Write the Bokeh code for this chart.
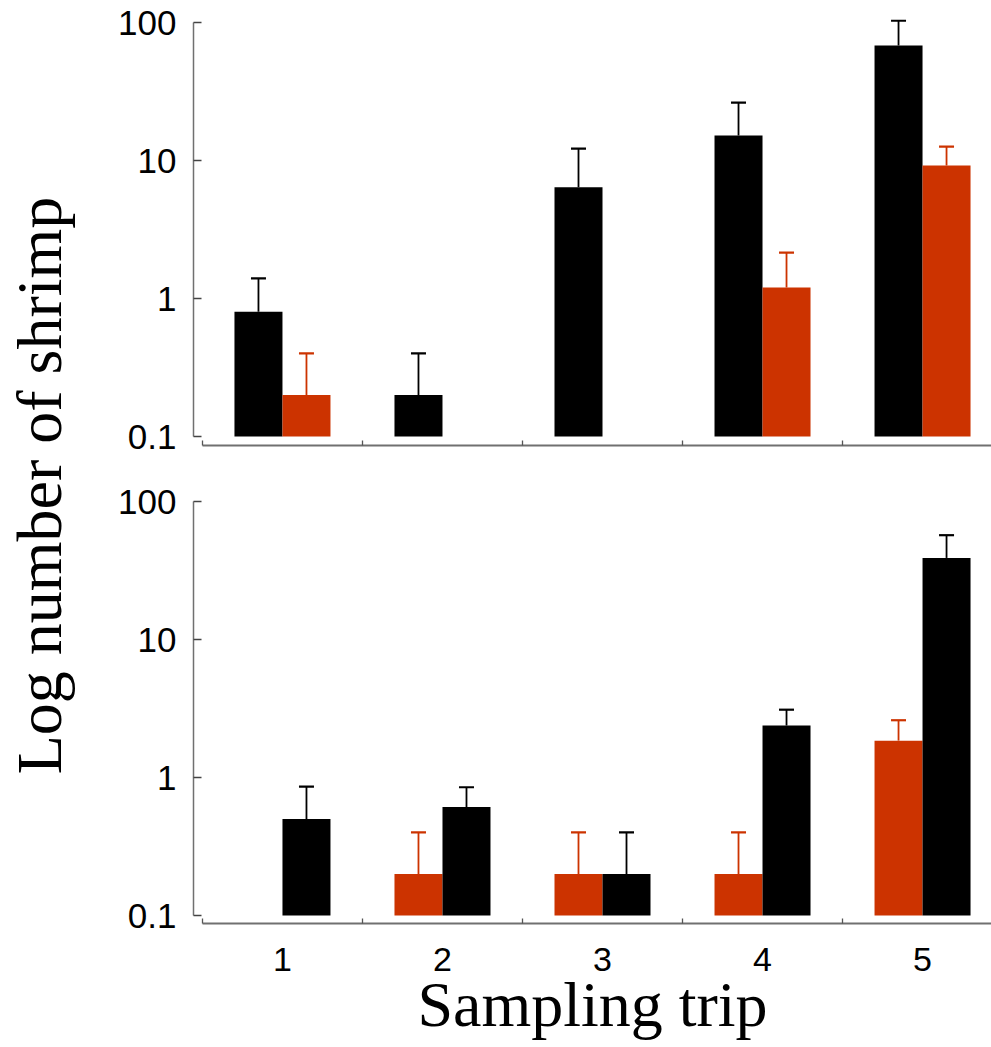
import math
from bokeh.plotting import figure
from bokeh.models import (ColumnDataSource, Range1d, FixedTicker, Whisker, TeeHead,
                          CustomJSTickFormatter)
from bokeh.layouts import row, column
from bokeh.embed import file_html
from bokeh.resources import INLINE

# ---------------- data ----------------
trips = [1, 2, 3, 4, 5]
trip_labels = ["1", "2", "3", "4", "5"]
group_edges = [0.5, 1.5, 2.5, 3.5, 4.5, 5.5]
y_ticks = [0.1, 1, 10, 100]
y_tick_labels = ["0.1", "1", "10", "100"]

# upper panel (black = left bar, red = right bar)
top_black = [0.8, 0.2, 6.4, 15.2, 68.0]
top_black_err = [1.4, 0.4, 12.2, 26.3, 103.0]
top_red = [0.2, None, None, 1.2, 9.2]
top_red_err = [0.4, None, None, 2.15, 12.6]

# lower panel (red = left bar, black = right bar)
bottom_red = [None, 0.2, 0.2, 0.2, 1.85]
bottom_red_err = [None, 0.4, 0.4, 0.4, 2.6]
bottom_black = [0.5, 0.61, 0.2, 2.38, 39.0]
bottom_black_err = [0.86, 0.85, 0.4, 3.1, 57.0]

RED = "#CC3300"
BLACK = "#000000"
AXIS_GRAY = "#707070"
BAR_W = 0.3
OFF = 0.15
BASE = 0.1

PANEL_W = 901
DECADE_PX = 138.0


def add_series(p, values, errs, offset, color):
    xs, tops, ups = [], [], []
    for t, v, e in zip(trips, values, errs):
        if v is None:
            continue
        xs.append(t + offset)
        tops.append(v)
        ups.append(e)
    src = ColumnDataSource(dict(x=xs, top=tops, upper=ups))
    w = Whisker(base="x", lower="top", upper="upper", source=src,
                line_color=color, line_width=1.8,
                upper_head=TeeHead(size=15, line_color=color, line_width=2.2),
                lower_head=None)
    p.add_layout(w)
    p.vbar(x="x", top="top", bottom=BASE, width=BAR_W, source=src,
           fill_color=color, line_color=None)


def make_panel(height, b_top, b_bottom, pad_top_px, pad_bottom_px, show_labels):
    y_start = 10 ** (-1 - pad_bottom_px / DECADE_PX)
    y_end = 10 ** (2 + pad_top_px / DECADE_PX)
    p = figure(width=PANEL_W, height=height, y_axis_type="log",
               x_range=Range1d(0.444, 5.431), y_range=Range1d(y_start, y_end),
               output_backend="svg", toolbar_location=None,
               min_border_left=103, min_border_right=0,
               min_border_top=b_top, min_border_bottom=b_bottom)
    p.outline_line_color = None
    p.xgrid.grid_line_color = None
    p.ygrid.grid_line_color = None
    p.background_fill_color = "white"

    xa = p.xaxis[0]
    xa.ticker = FixedTicker(ticks=trips, minor_ticks=group_edges)
    xa.bounds = (group_edges[0], group_edges[-1])
    xa.major_tick_in = 0
    xa.major_tick_out = 0
    xa.minor_tick_in = 5
    xa.minor_tick_out = 0
    xa.minor_tick_line_color = "#555555"
    xa.minor_tick_line_width = 1.3
    xa.axis_line_color = AXIS_GRAY
    xa.axis_line_width = 1.8
    xa.major_label_text_font = "Liberation Sans"
    xa.major_label_text_font_size = "34px"
    xa.major_label_text_color = "black"
    xa.major_label_standoff = 24
    if show_labels:
        xa.formatter = CustomJSTickFormatter(args=dict(vals=trips, labs=trip_labels),
                                             code="const i = vals.indexOf(Math.round(tick)); return i >= 0 ? labs[i] : '';")
    else:
        xa.formatter = CustomJSTickFormatter(code="return '';")

    ya = p.yaxis[0]
    ya.ticker = FixedTicker(ticks=y_ticks, minor_ticks=[])
    ya.formatter = CustomJSTickFormatter(
        args=dict(vals=y_ticks, labs=y_tick_labels),
        code="const i = vals.findIndex(v => Math.abs(Math.log10(v) - Math.log10(tick)) < 1e-6); return i >= 0 ? labs[i] : '';")
    ya.bounds = (y_ticks[0], y_ticks[-1])
    ya.major_tick_in = 8
    ya.major_tick_out = 0
    ya.minor_tick_in = 0
    ya.minor_tick_out = 0
    ya.major_tick_line_color = "#444444"
    ya.major_tick_line_width = 1.3
    ya.axis_line_color = AXIS_GRAY
    ya.axis_line_width = 1.5
    ya.major_label_text_font = "Liberation Sans"
    ya.major_label_text_font_size = "35px"
    ya.major_label_text_color = "black"
    ya.major_label_standoff = 17
    return p


TOTAL_H = 1045

# top panel: frame y 14..445 (100 at 22, 0.1 at 436)
top = make_panel(470, 14, 25, 8, 9, False)
add_series(top, top_black, top_black_err, -OFF, BLACK)
add_series(top, top_red, top_red_err, OFF, RED)

# bottom panel: frame y 493..923 (100 at 501, 0.1 at 915)
bottom = make_panel(TOTAL_H - 470, 23, TOTAL_H - 470 - 23 - 430, 8, 8, True)
add_series(bottom, bottom_red, bottom_red_err, -OFF, RED)
add_series(bottom, bottom_black, bottom_black_err, OFF, BLACK)
bottom.xaxis[0].axis_label = "Sampling trip"
bottom.xaxis[0].axis_label_text_font = "Liberation Serif"
bottom.xaxis[0].axis_label_text_font_size = "64px"
bottom.xaxis[0].axis_label_text_font_style = "normal"
bottom.xaxis[0].axis_label_text_color = "black"
bottom.xaxis[0].axis_label_standoff = -5

# shared y-axis title, placed in a narrow strip to the left of both panels
LABEL_CENTER_Y = 485
lab = figure(width=90, height=TOTAL_H, x_range=Range1d(0, 1), y_range=Range1d(0, 1),
             x_axis_location=None, y_axis_location="left",
             output_backend="svg", toolbar_location=None,
             min_border_left=0, min_border_right=0, min_border_top=0,
             min_border_bottom=TOTAL_H - 2 * LABEL_CENTER_Y)
lab.outline_line_color = None
lab.xgrid.grid_line_color = None
lab.ygrid.grid_line_color = None
la = lab.yaxis[0]
la.ticker = FixedTicker(ticks=[])
la.major_tick_in = 0
la.major_tick_out = 0
la.minor_tick_in = 0
la.minor_tick_out = 0
la.axis_line_color = None
la.major_label_text_font_size = "0px"
la.major_label_standoff = 0
la.axis_label = "Log number of shrimp"
la.axis_label_text_font = "Liberation Serif"
la.axis_label_text_font_size = "64px"
la.axis_label_text_font_style = "normal"
la.axis_label_text_color = "black"
la.axis_label_standoff = 0

layout = row(lab, column(top, bottom))

with open("out.html", "w") as f:
    f.write(file_html(layout, INLINE))
